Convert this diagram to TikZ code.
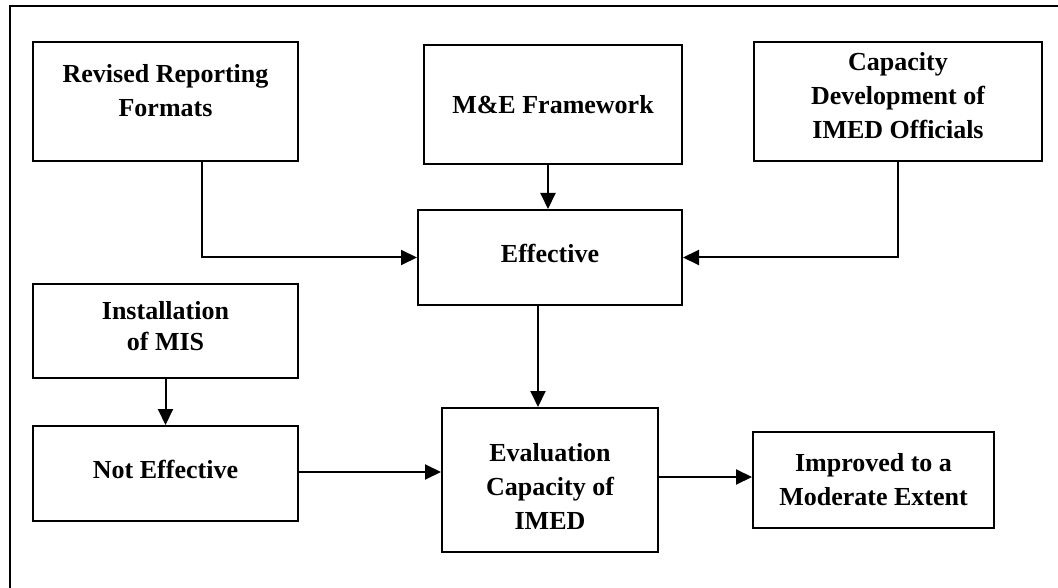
\documentclass[tikz,border=0pt]{standalone}
\usepackage{fontspec}
\setmainfont{Liberation Serif}
\usetikzlibrary{arrows.meta}
\begin{document}
\begin{tikzpicture}[x=1pt,y=-1pt,
  box/.style={draw=black, line width=2pt, rectangle, inner sep=0pt, align=center,
    font=\fontsize{26}{34}\selectfont\bfseries},
  arr/.style={line width=2pt, -{Triangle[length=16pt,width=15pt]}}]
\useasboundingbox (0,0) rectangle (1058,588);
\draw[line width=2.5pt] (10,592) -- (10,6) -- (1062,6);
\node[box, minimum width=265pt, minimum height=119pt, text height=52pt, text depth=21pt] (rev) at (165.5,101.5) {Revised Reporting\\Formats};
\node[box, minimum width=258pt, minimum height=119pt] (me) at (553,104.5) {M\&E Framework};
\node[box, minimum width=288pt, minimum height=119pt, text height=86pt, text depth=11pt] (cap) at (898,101.5) {Capacity\\Development of\\IMED Officials};
\node[box, minimum width=264pt, minimum height=95pt, text depth=8pt] (eff) at (550,257.5) {Effective};
\node[box, minimum width=265pt, minimum height=94pt, text depth=11pt, font=\fontsize{26}{31}\selectfont\bfseries] (inst) at (165.5,331) {Installation\\of MIS};
\node[box, minimum width=265pt, minimum height=95pt, text depth=8pt] (notef) at (165.5,473.5) {Not Effective};
\node[box, minimum width=216pt, minimum height=144pt, text height=98pt, text depth=0pt] (eval) at (550,480) {Evaluation\\Capacity of\\IMED};
\node[box, minimum width=241pt, minimum height=96pt] (imp) at (873.5,480) {Improved to a\\Moderate Extent};
\draw[arr] ([xshift=36.5pt]rev.south) |- (eff.west);
\draw[arr] (cap.south) |- (eff.east);
\draw[arr] ([xshift=-5pt]me.south) -- ([xshift=-5pt]me.south |- eff.north);
\draw[arr] ([xshift=-12pt]eff.south) -- ([xshift=-12pt]eff.south |- eval.north);
\draw[arr] (inst.south) -- (notef.north);
\draw[arr] ([yshift=1.5pt]notef.east) -- ([yshift=1.5pt]notef.east -| eval.west);
\draw[arr] ([yshift=3pt]eval.east) -- ([yshift=3pt]eval.east -| imp.west);
\end{tikzpicture}
\end{document}
